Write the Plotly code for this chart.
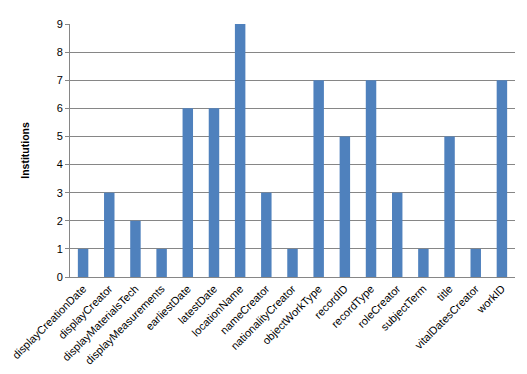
import plotly.graph_objects as go

categories = ["displayCreationDate", "displayCreator", "displayMaterialsTech", "displayMeasurements",
              "earliestDate", "latestDate", "locationName", "nameCreator", "nationalityCreator",
              "objectWorkType", "recordID", "recordType", "roleCreator", "subjectTerm", "title",
              "vitalDatesCreator", "workID"]
institutions = [1, 3, 2, 1, 6, 6, 9, 3, 1, 7, 5, 7, 3, 1, 5, 1, 7]
y_ticks = list(range(0, 10))

fig = go.Figure(go.Bar(x=categories, y=institutions, marker=dict(color="#4F81BD", line=dict(width=0))))

fig.update_layout(
    width=527, height=374,
    margin=dict(l=62, r=20, t=16, b=105),
    paper_bgcolor="white", plot_bgcolor="white",
    bargap=0.6,
    showlegend=False,
    font=dict(family="Liberation Sans, Arial, sans-serif", size=10, color="#000000"),
)
fig.update_xaxes(
    tickangle=-45, showline=True, linecolor="#868686", linewidth=1,
    showgrid=False, ticks="", tickfont=dict(size=11), automargin=False,
)
fig.update_yaxes(
    range=[0, 9], tickvals=y_ticks, showgrid=True, gridcolor="#868686", gridwidth=1,
    showline=True, linecolor="#868686", linewidth=1, ticks="outside", ticklen=4,
    tickcolor="#868686", zeroline=False, tickfont=dict(size=11), automargin=False,
    title=dict(text="<b>Institutions</b>", font=dict(size=10.5), standoff=24),
)

fig.write_html("out.html")
